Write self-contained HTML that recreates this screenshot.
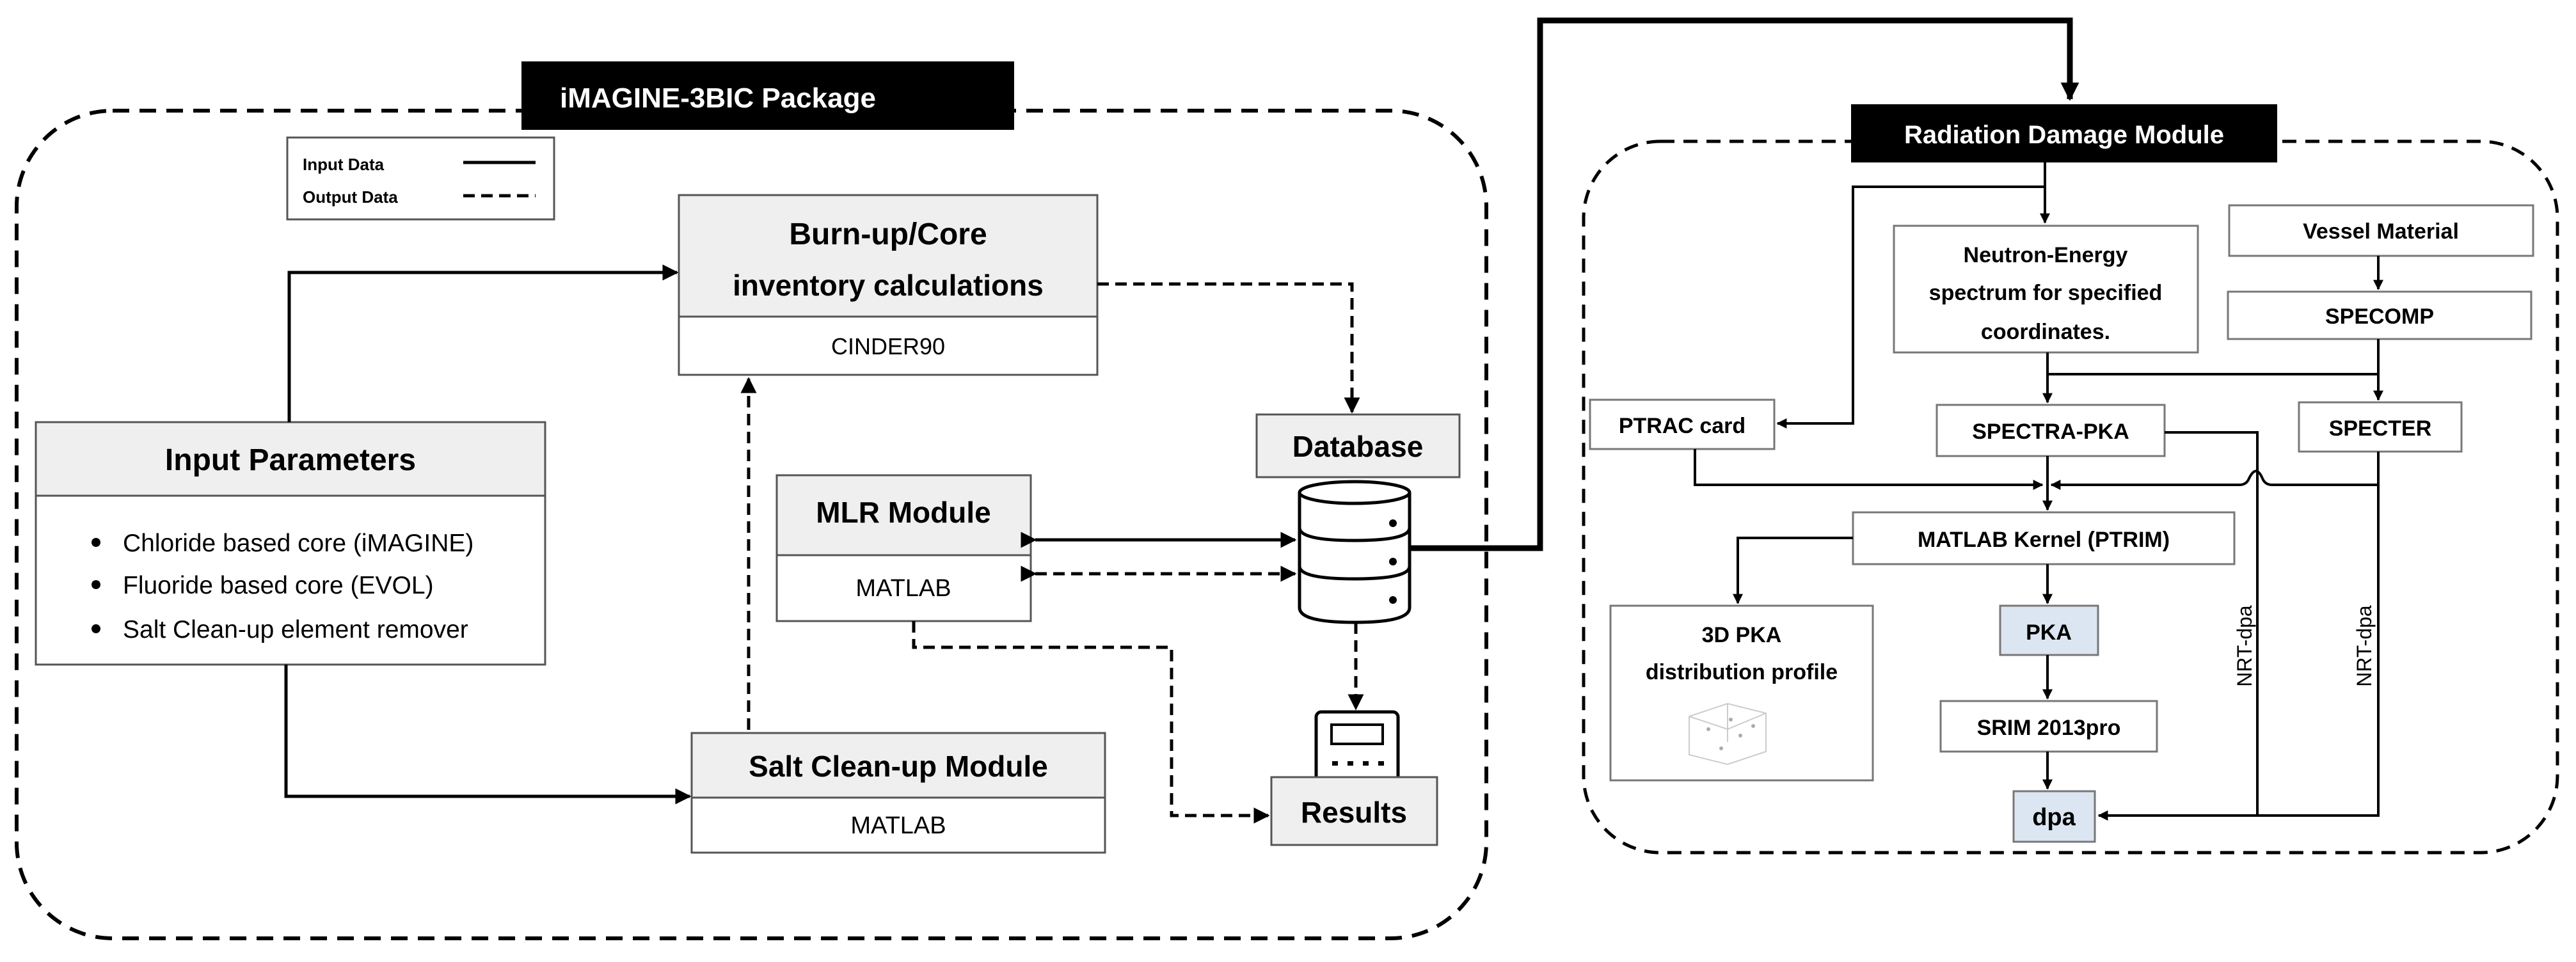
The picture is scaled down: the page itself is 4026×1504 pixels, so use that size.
<!DOCTYPE html>
<html><head><meta charset="utf-8"><style>
html,body{margin:0;padding:0;background:#fff}
svg{display:block}
text{font-family:"Liberation Sans",sans-serif}
</style></head><body>
<svg width="4026" height="1504" viewBox="0 0 4026 1504" xmlns="http://www.w3.org/2000/svg">
<defs>
<marker id="a" viewBox="0 0 10 10" refX="9" refY="5" markerWidth="4" markerHeight="4" orient="auto" markerUnits="strokeWidth"><path d="M0,0L10,5L0,10z" fill="#000"/></marker>
<marker id="as" viewBox="0 0 10 10" refX="9" refY="5" markerWidth="5" markerHeight="5" orient="auto" markerUnits="strokeWidth"><path d="M0,0L10,5L0,10z" fill="#000"/></marker>
<marker id="at" viewBox="0 0 10 10" refX="9" refY="5" markerWidth="3.2" markerHeight="3.2" orient="auto" markerUnits="strokeWidth"><path d="M0,0L10,5L0,10z" fill="#000"/></marker>
</defs>

<!-- Containers -->
<rect x="26" y="173" width="2297" height="1294" rx="150" fill="none" stroke="#000" stroke-width="6" stroke-dasharray="26 16"/>
<rect x="2475" y="221" width="1522" height="1112" rx="120" fill="none" stroke="#000" stroke-width="5" stroke-dasharray="22 14"/>

<!-- Title boxes -->
<rect x="815" y="96" width="770" height="107" fill="#000"/>
<text x="875" y="168" font-size="44" font-weight="bold" fill="#fff">iMAGINE-3BIC Package</text>
<rect x="2893" y="163" width="666" height="91" fill="#000"/>
<text x="3226" y="224" font-size="40" font-weight="bold" fill="#fff" text-anchor="middle">Radiation Damage Module</text>

<!-- Legend -->
<rect x="449" y="215" width="417" height="128" fill="#fff" stroke="#555" stroke-width="3"/>
<text x="473" y="266" font-size="26" font-weight="bold">Input Data</text>
<text x="473" y="317" font-size="26" font-weight="bold">Output Data</text>
<line x1="724" y1="254" x2="837" y2="254" stroke="#000" stroke-width="5"/>
<line x1="724" y1="306" x2="837" y2="306" stroke="#000" stroke-width="5" stroke-dasharray="18 10"/>

<!-- Burn-up -->
<rect x="1061" y="305" width="654" height="190" fill="#efefef" stroke="#555" stroke-width="3"/>
<rect x="1061" y="495" width="654" height="91" fill="#fff" stroke="#555" stroke-width="3"/>
<text x="1388" y="382" font-size="48" font-weight="bold" text-anchor="middle">Burn-up/Core</text>
<text x="1388" y="462" font-size="46" font-weight="bold" text-anchor="middle">inventory calculations</text>
<text x="1388" y="554" font-size="36" text-anchor="middle">CINDER90</text>

<!-- Input Parameters -->
<rect x="56" y="660" width="796" height="115" fill="#efefef" stroke="#555" stroke-width="3"/>
<rect x="56" y="775" width="796" height="264" fill="#fff" stroke="#555" stroke-width="3"/>
<text x="454" y="735" font-size="48" font-weight="bold" text-anchor="middle">Input Parameters</text>
<circle cx="150" cy="848" r="7"/><circle cx="150" cy="914" r="7"/><circle cx="150" cy="983" r="7"/>
<text x="192" y="862" font-size="39">Chloride based core (iMAGINE)</text>
<text x="192" y="928" font-size="39">Fluoride based core (EVOL)</text>
<text x="192" y="997" font-size="39">Salt Clean-up element remover</text>

<!-- MLR -->
<rect x="1214" y="743" width="397" height="125" fill="#efefef" stroke="#555" stroke-width="3"/>
<rect x="1214" y="868" width="397" height="103" fill="#fff" stroke="#555" stroke-width="3"/>
<text x="1412" y="817" font-size="46" font-weight="bold" text-anchor="middle">MLR Module</text>
<text x="1412" y="932" font-size="38" text-anchor="middle">MATLAB</text>

<!-- Salt clean-up -->
<rect x="1081" y="1146" width="646" height="101" fill="#efefef" stroke="#555" stroke-width="3"/>
<rect x="1081" y="1247" width="646" height="86" fill="#fff" stroke="#555" stroke-width="3"/>
<text x="1404" y="1214" font-size="46" font-weight="bold" text-anchor="middle">Salt Clean-up Module</text>
<text x="1404" y="1303" font-size="38" text-anchor="middle">MATLAB</text>

<!-- Database -->
<rect x="1964" y="648" width="317" height="98" fill="#efefef" stroke="#555" stroke-width="3"/>
<text x="2122" y="714" font-size="46" font-weight="bold" text-anchor="middle">Database</text>
<g fill="#fff" stroke="#000" stroke-width="5">
<path d="M2031,770 V950 Q2031,973 2117,973 Q2203,973 2203,950 V770"/>
<ellipse cx="2117" cy="770" rx="86" ry="17"/>
<path d="M2031,825 Q2031,845 2117,845 Q2203,845 2203,825" fill="none"/>
<path d="M2031,885 Q2031,905 2117,905 Q2203,905 2203,885" fill="none"/>
</g>
<circle cx="2177" cy="818" r="6"/><circle cx="2177" cy="878" r="6"/><circle cx="2177" cy="938" r="6"/>

<!-- Results device -->
<rect x="2057" y="1113" width="128" height="110" rx="8" fill="#fff" stroke="#000" stroke-width="5"/>
<rect x="2081" y="1133" width="80" height="30" fill="#fff" stroke="#000" stroke-width="4"/>
<g fill="#000"><rect x="2082" y="1190" width="9" height="7"/><rect x="2106" y="1190" width="9" height="7"/><rect x="2130" y="1190" width="9" height="7"/><rect x="2154" y="1190" width="9" height="7"/></g>
<rect x="1987" y="1215" width="259" height="106" fill="#efefef" stroke="#555" stroke-width="3"/>
<text x="2116" y="1286" font-size="46" font-weight="bold" text-anchor="middle">Results</text>

<!-- Left connectors -->
<g fill="none" stroke="#000" stroke-width="5">
<path d="M452,660 V426 H1058" marker-end="url(#as)"/>
<path d="M447,1039 V1245 H1078" marker-end="url(#as)"/>
<path d="M1618,844 H2024" marker-end="url(#as)" marker-start="url(#as)"/>
</g>
<g fill="none" stroke="#000" stroke-width="5" stroke-dasharray="18 10">
<path d="M1170,1141 V592" marker-end="url(#as)"/>
<path d="M1715,444 H2113 V644" marker-end="url(#as)"/>
<path d="M1618,897 H2024" marker-end="url(#as)" marker-start="url(#as)"/>
<path d="M1428,971 V1012 H1831 V1275 H1982" marker-end="url(#as)"/>
<path d="M2119,973 V1108" marker-end="url(#as)"/>
</g>
<!-- thick link -->
<path d="M2203,857 H2407 V32 H3235 V155" fill="none" stroke="#000" stroke-width="9" marker-end="url(#at)"/>

<!-- Right side boxes -->
<g fill="#fff" stroke="#777" stroke-width="3">
<rect x="2960" y="353" width="475" height="198"/>
<rect x="3484" y="321" width="475" height="79"/>
<rect x="3482" y="456" width="474" height="74"/>
<rect x="2485" y="625" width="288" height="77"/>
<rect x="3027" y="633" width="356" height="80"/>
<rect x="3593" y="629" width="254" height="77"/>
<rect x="2896" y="801" width="596" height="81"/>
<rect x="2517" y="947" width="410" height="273"/>
<rect x="3033" y="1096" width="338" height="79"/>
<rect x="3126" y="947" width="153" height="77" fill="#dce6f2"/>
<rect x="3147" y="1237" width="127" height="79" fill="#dce6f2"/>
</g>
<g font-size="34" font-weight="bold" text-anchor="middle">
<text x="3197" y="410">Neutron-Energy</text>
<text x="3197" y="469">spectrum for specified</text>
<text x="3197" y="530">coordinates.</text>
<text x="3721" y="373">Vessel Material</text>
<text x="3719" y="506">SPECOMP</text>
<text x="2629" y="677">PTRAC card</text>
<text x="3205" y="686">SPECTRA-PKA</text>
<text x="3720" y="681">SPECTER</text>
<text x="3194" y="855">MATLAB Kernel (PTRIM)</text>
<text x="2722" y="1004">3D PKA</text>
<text x="2722" y="1062">distribution profile</text>
<text x="3202" y="1000">PKA</text>
<text x="3202" y="1149">SRIM 2013pro</text>
<text x="3210" y="1290" font-family="Liberation Serif, serif" font-size="38">dpa</text>
</g>
<!-- tiny 3D plot -->
<g stroke="#ccc" stroke-width="2" fill="none">
<path d="M2640,1120 L2700,1100 L2760,1115 L2760,1175 L2700,1195 L2640,1180 Z"/>
<path d="M2700,1100 V1160 M2640,1120 L2700,1140 L2760,1115"/>
</g>
<g fill="#aaa"><circle cx="2670" cy="1140" r="3"/><circle cx="2720" cy="1150" r="3"/><circle cx="2690" cy="1170" r="3"/><circle cx="2740" cy="1135" r="3"/><circle cx="2705" cy="1125" r="3"/></g>

<!-- NRT labels -->
<text transform="translate(3519,1010) rotate(-90)" font-size="32" text-anchor="middle">NRT-dpa</text>
<text transform="translate(3706,1010) rotate(-90)" font-size="32" text-anchor="middle">NRT-dpa</text>

<!-- Right connectors -->
<g fill="none" stroke="#000" stroke-width="4">
<path d="M3196,254 V348" marker-end="url(#a)"/>
<path d="M3196,292 H2896 V662 H2778" marker-end="url(#a)"/>
<path d="M3717,400 V452" marker-end="url(#a)"/>
<path d="M3200,551 V629" marker-end="url(#a)"/>
<path d="M3200,585 H3717"/>
<path d="M3717,530 V625" marker-end="url(#a)"/>
<path d="M3200,713 V797" marker-end="url(#a)"/>
<path d="M2649,702 V758 H3192" marker-end="url(#a)"/>
<path d="M3717,706 V1275 H3280" marker-end="url(#a)"/>
<path d="M3717,758 H3551 Q3540,758 3536,748 Q3526,725 3515,748 Q3511,758 3500,758 H3206" marker-end="url(#a)"/>
<path d="M3383,676 H3528 V1275"/>
<path d="M2896,841 H2716 V943" marker-end="url(#a)"/>
<path d="M3200,882 V943" marker-end="url(#a)"/>
<path d="M3200,1024 V1092" marker-end="url(#a)"/>
<path d="M3200,1175 V1233" marker-end="url(#a)"/>
</g>
</svg>
</body></html>
